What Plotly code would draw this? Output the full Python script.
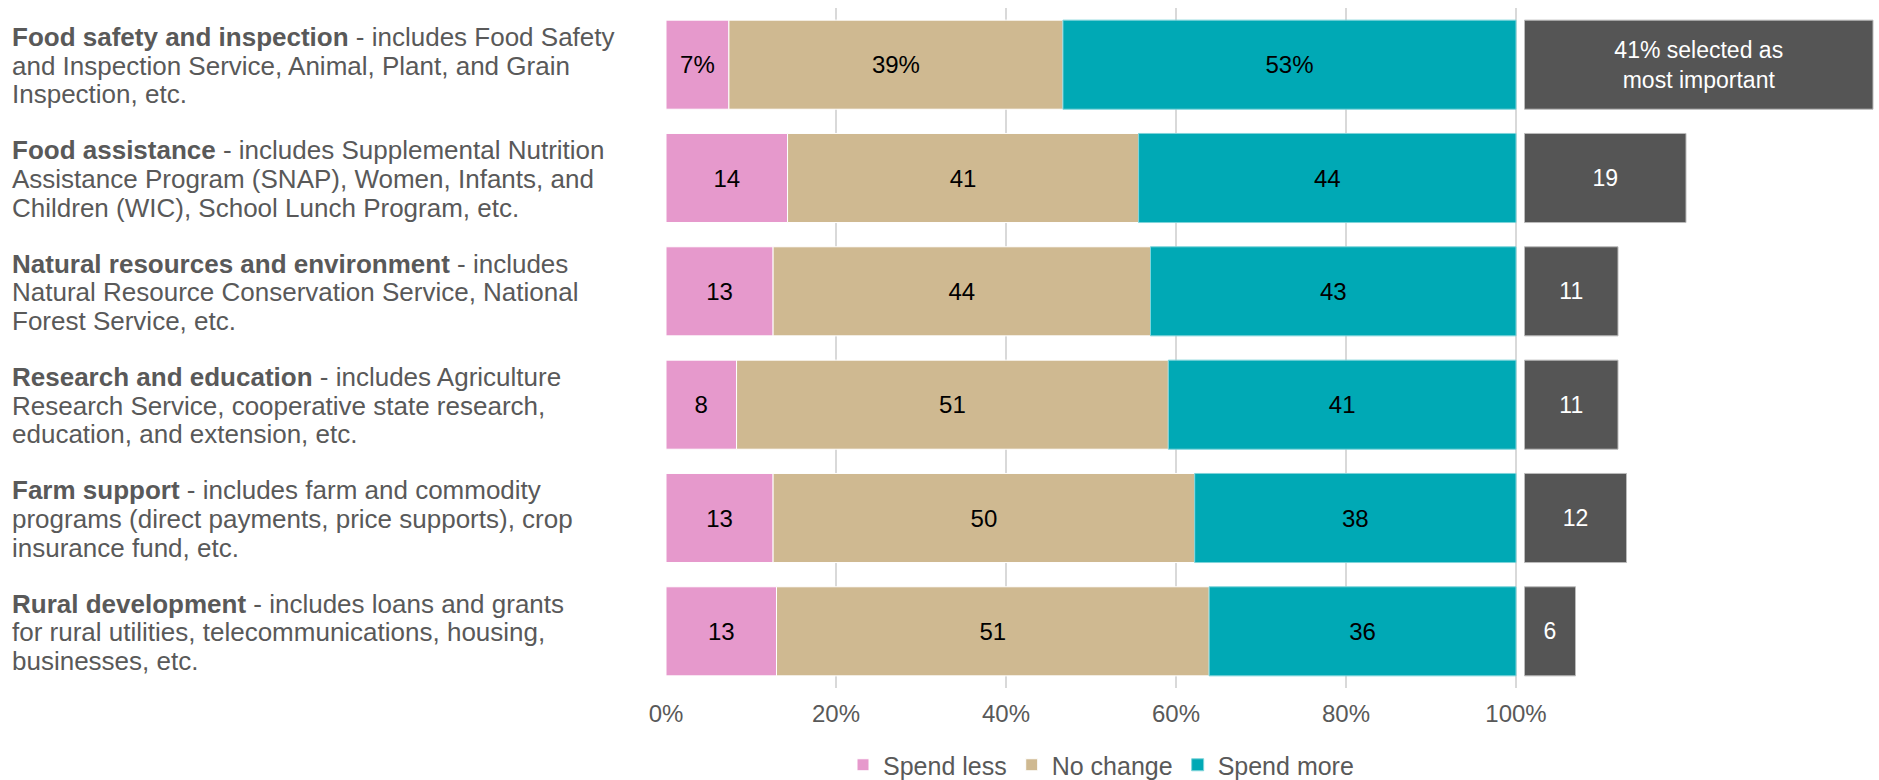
import plotly.graph_objects as go

categories = [
    "Food safety and inspection",
    "Food assistance",
    "Natural resources and environment",
    "Research and education",
    "Farm support",
    "Rural development",
]
description_lines = [
    [" - includes Food Safety", "and Inspection Service, Animal, Plant, and Grain", "Inspection, etc."],
    [" - includes Supplemental Nutrition", "Assistance Program (SNAP), Women, Infants, and", "Children (WIC), School Lunch Program, etc."],
    [" - includes", "Natural Resource Conservation Service, National", "Forest Service, etc."],
    [" - includes Agriculture", "Research Service, cooperative state research,", "education, and extension, etc."],
    [" - includes farm and commodity", "programs (direct payments, price supports), crop", "insurance fund, etc."],
    [" - includes loans and grants", "for rural utilities, telecommunications, housing,", "businesses, etc."],
]
spend_less = [7.4, 14.3, 12.6, 8.3, 12.6, 13.0]
no_change = [39.3, 41.3, 44.4, 50.8, 49.6, 50.9]
spend_more = [53.3, 44.4, 43.0, 40.9, 37.8, 36.1]
most_important = [41, 19, 11, 11, 12, 6]
tick_vals = [0, 20, 40, 60, 80, 100]
tick_text = ["0%", "20%", "40%", "60%", "80%", "100%"]

FONT = "Liberation Sans, Arial, sans-serif"
GREY_TXT = "#595959"

def fmt(vals, first_pct=True):
    out = []
    for i, v in enumerate(vals):
        s = f"{round(v):d}"
        if i == 0 and first_pct:
            s += "%"
        out.append(s)
    return out

base_nc = spend_less
base_sm = [a + b for a, b in zip(spend_less, no_change)]
imp_base = 101

fig = go.Figure()
common = dict(orientation="h", y=categories, textposition="inside",
              insidetextanchor="middle", textangle=0, constraintext="none",
              hoverinfo="skip")
fig.add_trace(go.Bar(name="Spend less", x=spend_less, base=[0] * 6,
                     marker=dict(color="#E699CC", line=dict(color="#FFFFFF", width=1)),
                     text=fmt(spend_less), textfont=dict(family=FONT, size=24, color="#000000"),
                     **common))
fig.add_trace(go.Bar(name="No change", x=no_change, base=base_nc,
                     marker=dict(color="#CFB991", line=dict(color="#FFFFFF", width=1)),
                     text=fmt(no_change), textfont=dict(family=FONT, size=24, color="#000000"),
                     **common))
fig.add_trace(go.Bar(name="Spend more", x=spend_more, base=base_sm,
                     marker=dict(color="#00A9B5", line=dict(color="#7FD4DA", width=1)),
                     text=fmt(spend_more), textfont=dict(family=FONT, size=24, color="#000000"),
                     **common))
imp_text = [f"{most_important[0]}% selected as<br>most important"] + [str(v) for v in most_important[1:]]
fig.add_trace(go.Bar(name="Most important", x=most_important, base=[imp_base] * 6,
                     marker=dict(color="#555555", line=dict(color="#BBBBBB", width=1)),
                     text=imp_text, textfont=dict(family=FONT, size=23, color="#FFFFFF"),
                     showlegend=False, **common))

L, R, T, B = 666, 0, 8, 92
W, H = 1879, 780
px_per_unit = 8.5
xmax = (W - L - R) / px_per_unit
LINE_H = 28.7

annotations = []
for cat, lines in zip(categories, description_lines):
    texts = [f"<b>{cat}</b>{lines[0]}", lines[1], lines[2]]
    for k, t in enumerate(texts):
        annotations.append(dict(
            xref="paper", yref="y", x=(10 - L) / (W - L - R), y=cat,
            xanchor="left", yanchor="middle", align="left", showarrow=False,
            yshift=(1 - k) * LINE_H - 1,
            text=t,
            font=dict(family=FONT, size=26, color=GREY_TXT),
        ))

fig.update_layout(
    width=W, height=H,
    margin=dict(l=L, r=R, t=T, b=B, autoexpand=False),
    paper_bgcolor="white", plot_bgcolor="white",
    barmode="overlay", bargap=0.214,
    font=dict(family=FONT, size=24, color=GREY_TXT),
    xaxis=dict(range=[0, xmax], tickvals=tick_vals, ticktext=tick_text,
               showgrid=True, gridcolor="#D9D9D9", gridwidth=1.5, automargin=False,
               zeroline=False, showline=False, ticks="", ticklabelstandoff=9,
               tickfont=dict(family=FONT, size=24, color=GREY_TXT)),
    yaxis=dict(autorange="reversed", showticklabels=False, showgrid=False, automargin=False,
               zeroline=False, showline=False, ticks=""),
    legend=dict(orientation="h", x=(1101 - L) / (W - L - R), xanchor="center",
                yref="container", y=(H - 765) / H, yanchor="middle",
                font=dict(family=FONT, size=25, color=GREY_TXT),
                traceorder="normal", itemwidth=30),
    annotations=annotations,
    showlegend=True,
)

fig.write_html("out.html", config={"displayModeBar": False},
               post_script="document.body.style.margin='0';")
